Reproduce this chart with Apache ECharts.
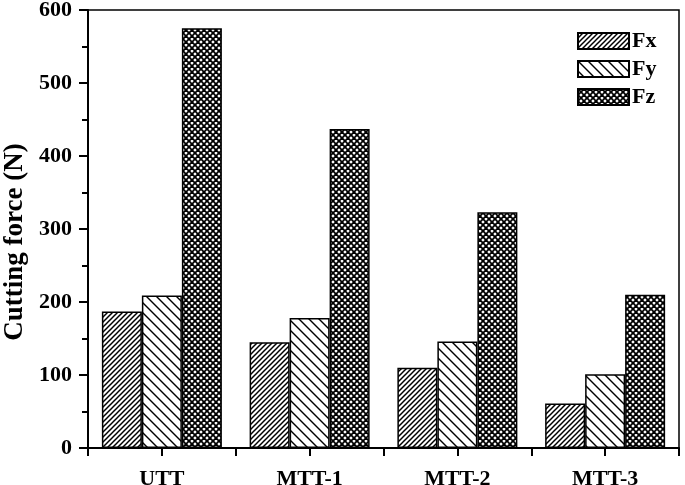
<!DOCTYPE html>
<html><head><meta charset="utf-8">
<script src="https://cdn.jsdelivr.net/npm/echarts@6/dist/echarts.min.js"></script>
<style>html,body{margin:0;padding:0;background:#fff}#c{width:685px;height:485px}</style>
</head><body><div id="c"></div>
<script>
var categories = ['UTT', 'MTT-1', 'MTT-2', 'MTT-3'];
var seriesNames = ['Fx', 'Fy', 'Fz'];
var fx = [187, 145, 110, 61];
var fy = [209, 178, 146, 101];
var fz = [575, 437, 323, 210];
var yTicks = [0, 100, 200, 300, 400, 500, 600];

function makePattern(size, draw) {
  var c = document.createElement('canvas');
  c.width = size; c.height = size;
  var g = c.getContext('2d');
  g.fillStyle = '#fff'; g.fillRect(0, 0, size, size);
  g.strokeStyle = '#000';
  draw(g, size);
  return { image: c, repeat: 'repeat' };
}
function fwd(g, s) { // "/"
  for (var k = -1; k <= 1; k++) {
    g.beginPath(); g.moveTo(k * s - 1, s + 1); g.lineTo(k * s + s + 1, -1); g.stroke();
  }
}
function back(g, s) { // "\"
  for (var k = -1; k <= 1; k++) {
    g.beginPath(); g.moveTo(k * s - 1, -1); g.lineTo(k * s + s + 1, s + 1); g.stroke();
  }
}
var patFx = makePattern(5, function (g, s) { g.lineWidth = 1.5; fwd(g, s); });
var patFy = makePattern(10, function (g, s) { g.lineWidth = 1.4; back(g, s); });
var patFz = makePattern(6, function (g, s) { g.lineWidth = 1.8; fwd(g, s); back(g, s); });
var pats = [patFx, patFy, patFz];
var vals = [fx, fy, fz];

var font = "'Liberation Serif', 'Times New Roman', serif";
var chart = echarts.init(document.getElementById('c'), null, { renderer: 'canvas' });
chart.setOption({
  animation: false,
  backgroundColor: '#fff',
  grid: { left: 88, right: 6, top: 10, bottom: 37, show: true, borderColor: '#000', borderWidth: 1.5,
    outerBoundsMode: 'none', containLabel: false },
  legend: {
    data: seriesNames,
    orient: 'vertical',
    left: 577, top: 30, padding: 0,
    itemWidth: 51, itemHeight: 16, itemGap: 6,
    icon: 'rect',
    textStyle: { fontFamily: font, fontWeight: 'bold', fontSize: 22, color: '#000', padding: [0, 0, 0, -2] }
  },
  xAxis: [{
    type: 'category', data: categories,
    axisLine: { lineStyle: { color: '#000', width: 2 } },
    axisTick: { show: false },
    axisLabel: { color: '#000', fontFamily: font, fontWeight: 'bold', fontSize: 22, margin: 20 }
  }, {
    type: 'value', min: 0, max: 8, interval: 1, position: 'bottom',
    axisLine: { show: false },
    axisTick: { show: true, length: 8, lineStyle: { color: '#000', width: 2 } },
    axisLabel: { show: false }, splitLine: { show: false }
  }],
  yAxis: {
    type: 'value', min: 0, max: 600, interval: 100,
    name: 'Cutting force (N)', nameLocation: 'middle', nameGap: 57,
    nameTextStyle: { fontFamily: font, fontWeight: 'bold', fontSize: 27, color: '#000', padding: [0, 26, 0, 0] },
    axisLine: { show: true, lineStyle: { color: '#000', width: 2 } },
    axisTick: { show: true, length: 9, lineStyle: { color: '#000', width: 2 } },
    minorTick: { show: true, splitNumber: 2, length: 6, lineStyle: { color: '#000', width: 2 } },
    splitLine: { show: false },
    axisLabel: { color: '#000', fontFamily: font, fontWeight: 'bold', fontSize: 22, margin: 16,
      formatter: function (v) { return yTicks.indexOf(v) >= 0 ? String(v) : ''; } }
  },
  series: seriesNames.map(function (n, i) {
    return {
      name: n, type: 'bar', data: vals[i], xAxisIndex: 0,
      barWidth: 40, barGap: '0%',
      itemStyle: { color: pats[i], borderColor: '#000', borderWidth: 1.5 }
    };
  })
});
</script></body></html>
